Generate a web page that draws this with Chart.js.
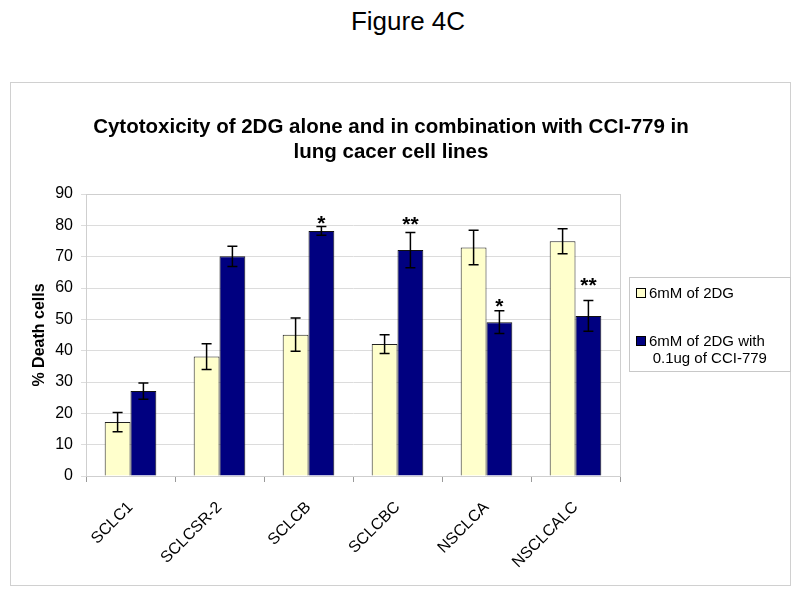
<!DOCTYPE html>
<html>
<head>
<meta charset="utf-8">
<script src="https://cdn.jsdelivr.net/npm/chart.js@4.4.0/dist/chart.umd.min.js"></script>
<style>
    body { margin: 0; background: #fff; width: 800px; height: 593px; position: relative; overflow: hidden; font-family: Arial, "Liberation Sans", sans-serif; }
    #fig { position: absolute; left: 0; width: 816px; top: 6px; text-align: center; font-size: 26px; color: #000; }
    #frame { position: absolute; left: 10px; top: 82px; width: 779px; height: 502px; border: 1px solid #d0d0d0; }
    #title { position: absolute; left: 0; width: 760px; top: 30px; text-align: center; font-family: "Liberation Sans Narrow", "Arial Narrow", Arial, sans-serif; font-weight: bold; font-size: 20.5px; line-height: 25px; color: #000; }
    #chartBox { position: absolute; left: 0; top: 0; width: 779px; height: 502px; }
    #legend { position: absolute; left: 618px; top: 194px; width: 160px; height: 93px; border: 1px solid #c8c8c8; font-size: 15px; color: #000; }
    .item { position: absolute; left: 6px; line-height: 17px; }
    .swatch { display: inline-block; width: 8px; height: 8px; border: 1px solid #000; margin-right: 3px; vertical-align: 0px; }
</style>
</head>
<body>
<div id="fig">Figure 4C</div>
<div id="frame">
    <div id="chartBox"><canvas id="chart" width="779" height="502"></canvas></div>
    <div id="title">Cytotoxicity of 2DG alone and in combination with CCI-779 in<br>lung cacer cell lines</div>
    <div id="legend"></div>
</div>
<script>
// Data
const cellLines = ['SCLC1', 'SCLCSR-2', 'SCLCB', 'SCLCBC', 'NSCLCA', 'NSCLCALC'];
const seriesNames = ['6mM of 2DG', '6mM of 2DG with 0.1ug of CCI-779'];
const alone2DG = [17.2, 38.1, 45.1, 42.1, 72.9, 74.9];
const alone2DGErr = [3.1, 4.1, 5.3, 3.0, 5.5, 4.0];
const combo = [27.1, 70.1, 78.2, 72.1, 49.1, 51.1];
const comboErr = [2.6, 3.2, 1.4, 5.6, 3.6, 4.9];
const comboStars = ['', '', '*', '**', '*', '**'];
const starLevels = [null, null, 82.5, 82, 56, 62.5];
const yTicks = [0, 10, 20, 30, 40, 50, 60, 70, 80, 90];
const seriesColors = ['#FFFFCC', '#000080'];

// HTML legend
const legendEl = document.getElementById('legend');
legendEl.innerHTML =
    '<div class="item" style="top:6px"><span class="swatch" style="background:' + seriesColors[0] + '"></span>' + seriesNames[0] + '</div>' +
    '<div class="item" style="top:54px"><span class="swatch" style="background:' + seriesColors[1] + '"></span>6mM of 2DG with<br>&nbsp;&nbsp;&nbsp;&nbsp;0.1ug of CCI-779</div>';

const errorBarPlugin = {
    id: 'errorBars',
    afterDatasetsDraw(chart) {
        const ctx = chart.ctx;
        const yScale = chart.scales.y;
        ctx.save();
        ctx.strokeStyle = '#000';
        ctx.lineWidth = 1.5;
        chart.data.datasets.forEach((ds, di) => {
            const meta = chart.getDatasetMeta(di);
            meta.data.forEach((bar, i) => {
                const v = ds.data[i];
                const e = ds.errors[i];
                const yTop = yScale.getPixelForValue(v + e);
                const yBot = yScale.getPixelForValue(v - e);
                const x = bar.x;
                ctx.beginPath();
                ctx.moveTo(x, yTop); ctx.lineTo(x, yBot);
                ctx.moveTo(x - 5, yTop); ctx.lineTo(x + 5, yTop);
                ctx.moveTo(x - 5, yBot); ctx.lineTo(x + 5, yBot);
                ctx.stroke();
            });
        });
        // significance stars over the combination bars
        const meta = chart.getDatasetMeta(1);
        ctx.fillStyle = '#000';
        ctx.font = 'bold 21px Arial, "Liberation Sans", sans-serif';
        ctx.textAlign = 'center';
        ctx.textBaseline = 'alphabetic';
        meta.data.forEach((bar, i) => {
            if (!comboStars[i]) return;
            const y = yScale.getPixelForValue(starLevels[i]);
            ctx.fillText(comboStars[i], bar.x, y + 12);
        });
        // plot frame
        const a = chart.chartArea;
        ctx.strokeStyle = '#cfcfcf';
        ctx.lineWidth = 1;
        ctx.strokeRect(a.left + 0.5, a.top + 0.5, a.right - a.left, a.bottom - a.top);
        ctx.restore();
    }
};

const ctx = document.getElementById('chart').getContext('2d');
new Chart(ctx, {
    type: 'bar',
    data: {
        labels: cellLines,
        datasets: [{
            label: seriesNames[0],
            data: alone2DG,
            errors: alone2DGErr,
            backgroundColor: seriesColors[0],
            borderColor: '#222',
            borderWidth: 1
        }, {
            label: seriesNames[1],
            data: combo,
            errors: comboErr,
            backgroundColor: seriesColors[1],
            borderColor: '#111',
            borderWidth: 1
        }]
    },
    options: {
        responsive: false,
        animation: false,
        categoryPercentage: 0.58,
        barPercentage: 1,
        layout: {
            padding: { top: 111, right: 170, bottom: 0, left: 0 }
        },
        plugins: {
            legend: { display: false },
            tooltip: { enabled: false }
        },
        scales: {
            y: {
                min: 0,
                max: 90,
                afterFit(scale) { scale.width = 75; },
                afterBuildTicks(scale) { scale.ticks = yTicks.map(v => ({ value: v })); },
                ticks: {
                    color: '#000',
                    padding: 8,
                    font: { family: 'Arial, "Liberation Sans", sans-serif', size: 16 }
                },
                grid: { color: '#dcdcdc', tickLength: 5 },
                border: { color: '#bdbdbd' },
                title: {
                    display: true,
                    text: '% Death cells',
                    color: '#000',
                    padding: { top: 19, bottom: 0 },
                    font: { family: 'Arial, "Liberation Sans", sans-serif', size: 16, weight: 'bold' }
                }
            },
            x: {
                afterFit(scale) { scale.height = 109; },
                ticks: {
                    color: '#000',
                    minRotation: 45,
                    maxRotation: 45,
                    padding: 16,
                    font: { family: 'Arial, "Liberation Sans", sans-serif', size: 16 }
                },
                grid: { drawOnChartArea: false, color: '#9a9a9a', tickLength: 6 },
                border: { color: '#9a9a9a' }
            }
        }
    },
    plugins: [errorBarPlugin]
});
</script>
</body>
</html>
